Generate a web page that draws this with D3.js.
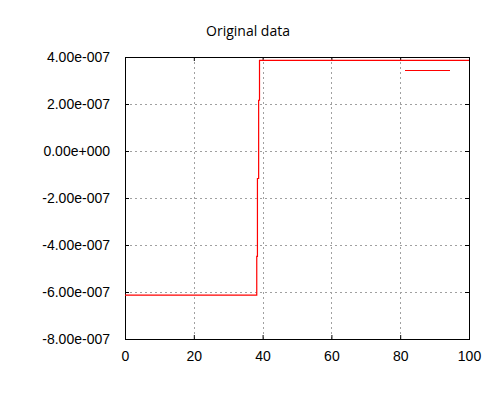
<!DOCTYPE html>
<html>
<head>
<meta charset="utf-8">
<script src="https://cdn.jsdelivr.net/npm/d3@7"></script>
<style>
body { margin: 0; background: #fff; }
</style>
</head>
<body>
<div id="chart"></div>
<script>
// step data
var xVals = [0, 38.3, 38.5, 38.85, 39.1, 100];
var yVals = [-6.13e-7, -4.48e-7, -1.17e-7, 2.16e-7, 3.86e-7, 3.86e-7];
var xTicks = [0, 20, 40, 60, 80, 100];
var yTicks = [-8e-7, -6e-7, -4e-7, -2e-7, 0, 2e-7, 4e-7];
var title = "Original data";

var margin = {top: 57, right: 31, bottom: 61, left: 125},
    width = 500 - margin.left - margin.right,
    height = 400 - margin.top - margin.bottom;

// gnuplot-ish exponent format: 4.00e-007 (plain hyphen, not unicode minus)
var loc = d3.formatLocale({decimal: ".", thousands: ",", grouping: [3], currency: ["", ""], minus: "-"});
var fmtExp = function(v){
    var s = loc.format(".2e")(v);
    var parts = s.split("e");
    var sign = parts[1][0];
    var num = parts[1].slice(1);
    while (num.length < 3) num = "0" + num;
    return parts[0] + "e" + sign + num;
};

var x = d3.scaleLinear().domain([0, 100]).range([0, width]);
var y = d3.scaleLinear().domain([-8e-7, 4e-7]).range([height, 0]);

var svg = d3.select("#chart").append("svg")
    .attr("width", 500)
    .attr("height", 400);

svg.append("text")
    .attr("x", 248)
    .attr("y", 36)
    .attr("text-anchor", "middle")
    .style("font-family", "'Open Sans', 'Noto Sans', sans-serif")
    .style("font-size", "14px")
    .attr("fill", "#000")
    .text(title);

var g = svg.append("g")
    .attr("transform", "translate(" + margin.left + "," + margin.top + ")");

// grid
g.append("g").selectAll("line")
    .data(xTicks.slice(1, -1))
    .enter().append("line")
    .attr("x1", function(d){ return Math.round(x(d)) + 0.5; })
    .attr("x2", function(d){ return Math.round(x(d)) + 0.5; })
    .attr("y1", 0).attr("y2", height)
    .attr("stroke", "#a0a0a0")
    .attr("stroke-dasharray", "2,3");
g.append("g").selectAll("line")
    .data(yTicks.slice(1, -1))
    .enter().append("line")
    .attr("y1", function(d){ return Math.round(y(d)) + 0.5; })
    .attr("y2", function(d){ return Math.round(y(d)) + 0.5; })
    .attr("x1", 0).attr("x2", width)
    .attr("stroke", "#a0a0a0")
    .attr("stroke-dasharray", "2,3");

// axes with inward ticks
var xAxis = g.append("g")
    .attr("transform", "translate(0," + height + ")")
    .call(d3.axisBottom(x).tickValues(xTicks).tickSizeInner(-4).tickSizeOuter(0).tickPadding(12));
var yAxis = g.append("g")
    .call(d3.axisLeft(y).tickValues(yTicks).tickFormat(fmtExp).tickSizeInner(-4).tickSizeOuter(0).tickPadding(15));
g.append("g")
    .call(d3.axisTop(x).tickValues(xTicks).tickSizeInner(-4).tickSizeOuter(0).tickFormat(""));
g.append("g")
    .attr("transform", "translate(" + width + ",0)")
    .call(d3.axisRight(y).tickValues(yTicks).tickSizeInner(-4).tickSizeOuter(0).tickFormat(""));
g.selectAll(".domain").remove();
g.selectAll(".tick line").attr("stroke", "#000");
g.selectAll(".tick text")
    .style("font-family", "'Liberation Sans', Arial, sans-serif")
    .style("font-size", "14px")
    .attr("fill", "#000");

// frame
g.append("rect")
    .attr("x", 0.5).attr("y", 0.5)
    .attr("width", width).attr("height", height)
    .attr("fill", "none")
    .attr("stroke", "#000");

// series
var pts = xVals.map(function(d, i){ return [d, yVals[i]]; });
var line = d3.line()
    .x(function(d){ return x(d[0]); })
    .y(function(d){ return y(d[1]); })
    .curve(d3.curveStepAfter);
g.append("path")
    .datum(pts)
    .attr("d", line)
    .attr("fill", "none")
    .attr("stroke", "#ff0000")
    .attr("stroke-width", 1.2);

// legend key (no label)
g.append("line")
    .attr("x1", 280).attr("x2", 325)
    .attr("y1", 13.5).attr("y2", 13.5)
    .attr("stroke", "#ff0000")
    .attr("stroke-width", 1.2);
</script>
</body>
</html>
